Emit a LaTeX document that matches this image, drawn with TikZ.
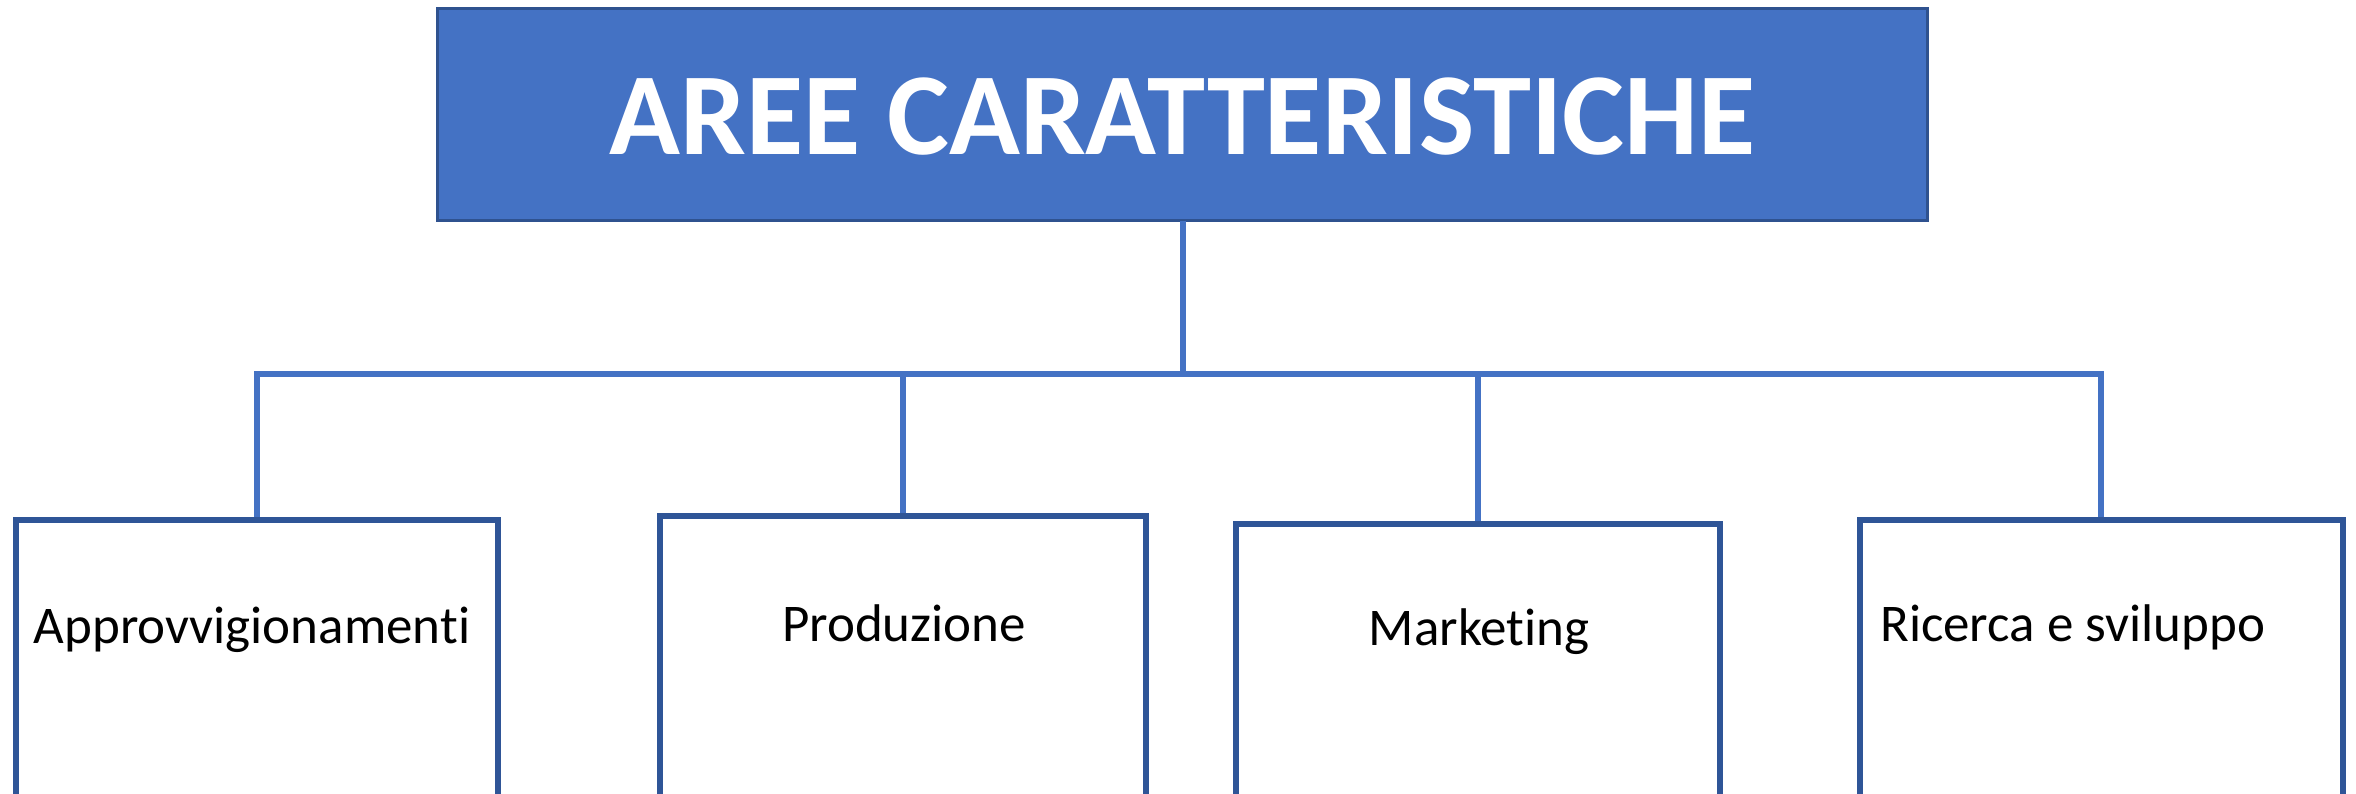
\documentclass[tikz,border=0pt]{standalone}
\usepackage{fontspec}
\setmainfont{Carlito}[Ligatures=NoCommon]
\definecolor{fillblue}{HTML}{4472C4}
\definecolor{edgeblue}{HTML}{2F528F}
\definecolor{boxblue}{HTML}{2F5597}
\begin{document}
\begin{tikzpicture}[x=1pt,y=-1pt,
  topbox/.style={draw=edgeblue,fill=fillblue,line width=3pt,minimum width=1490pt,minimum height=212pt,inner sep=0pt,outer sep=0pt,anchor=north west},
  areabox/.style={draw=boxblue,line width=5.5pt,minimum height=420pt,inner sep=0pt,outer sep=0pt,anchor=north west},
  conn/.style={draw=fillblue,line width=6pt},
  lbl/.style={inner sep=0pt,font=\fontsize{53}{64}\selectfont},
  ttl/.style={inner sep=0pt,text=white,font=\bfseries\fontsize{117}{140}\selectfont}]
\useasboundingbox (0,0) rectangle (2356,793);
\clip (0,0) rectangle (2356,793);
% nodes
\node[topbox] (top) at (437.5,8.5) {};
\node[ttl,anchor=base] (title) at (1182.5,154) {AREE CARATTERISTICHE};
\node[areabox,minimum width=482pt] (b1) at (15.75,519.75) {};
\node[areabox,minimum width=486pt] (b2) at (659.75,515.75) {};
\node[areabox,minimum width=484pt] (b3) at (1235.75,523.75) {};
\node[areabox,minimum width=483pt] (b4) at (1859.75,519.75) {};
\coordinate (bus) at (0,374);
% connectors
\draw[conn] (top.south) -- (top.south |- bus);
\draw[conn,line join=miter] (b1.north) -- (b1.north |- bus) -- (b4.north |- bus) -- (b4.north);
\draw[conn] (b2.north |- bus) -- (b2.north);
\draw[conn] (b3.north |- bus) -- (b3.north);
% redraw box outlines over connector ends
\node[areabox,minimum width=482pt] at (15.75,519.75) {};
\node[areabox,minimum width=486pt] at (659.75,515.75) {};
\node[areabox,minimum width=484pt] at (1235.75,523.75) {};
\node[areabox,minimum width=483pt] at (1859.75,519.75) {};
% labels
\node[lbl,anchor=base] (t1) at (252,643) {Approvvigionamenti};
\node[lbl,anchor=base] (t2) at (904,641) {Produzione};
\node[lbl,anchor=base] (t3) at (1479,645) {Marketing};
\node[lbl,anchor=base west] (t4) at (1880,641) {Ricerca e sviluppo};
\end{tikzpicture}
\end{document}
